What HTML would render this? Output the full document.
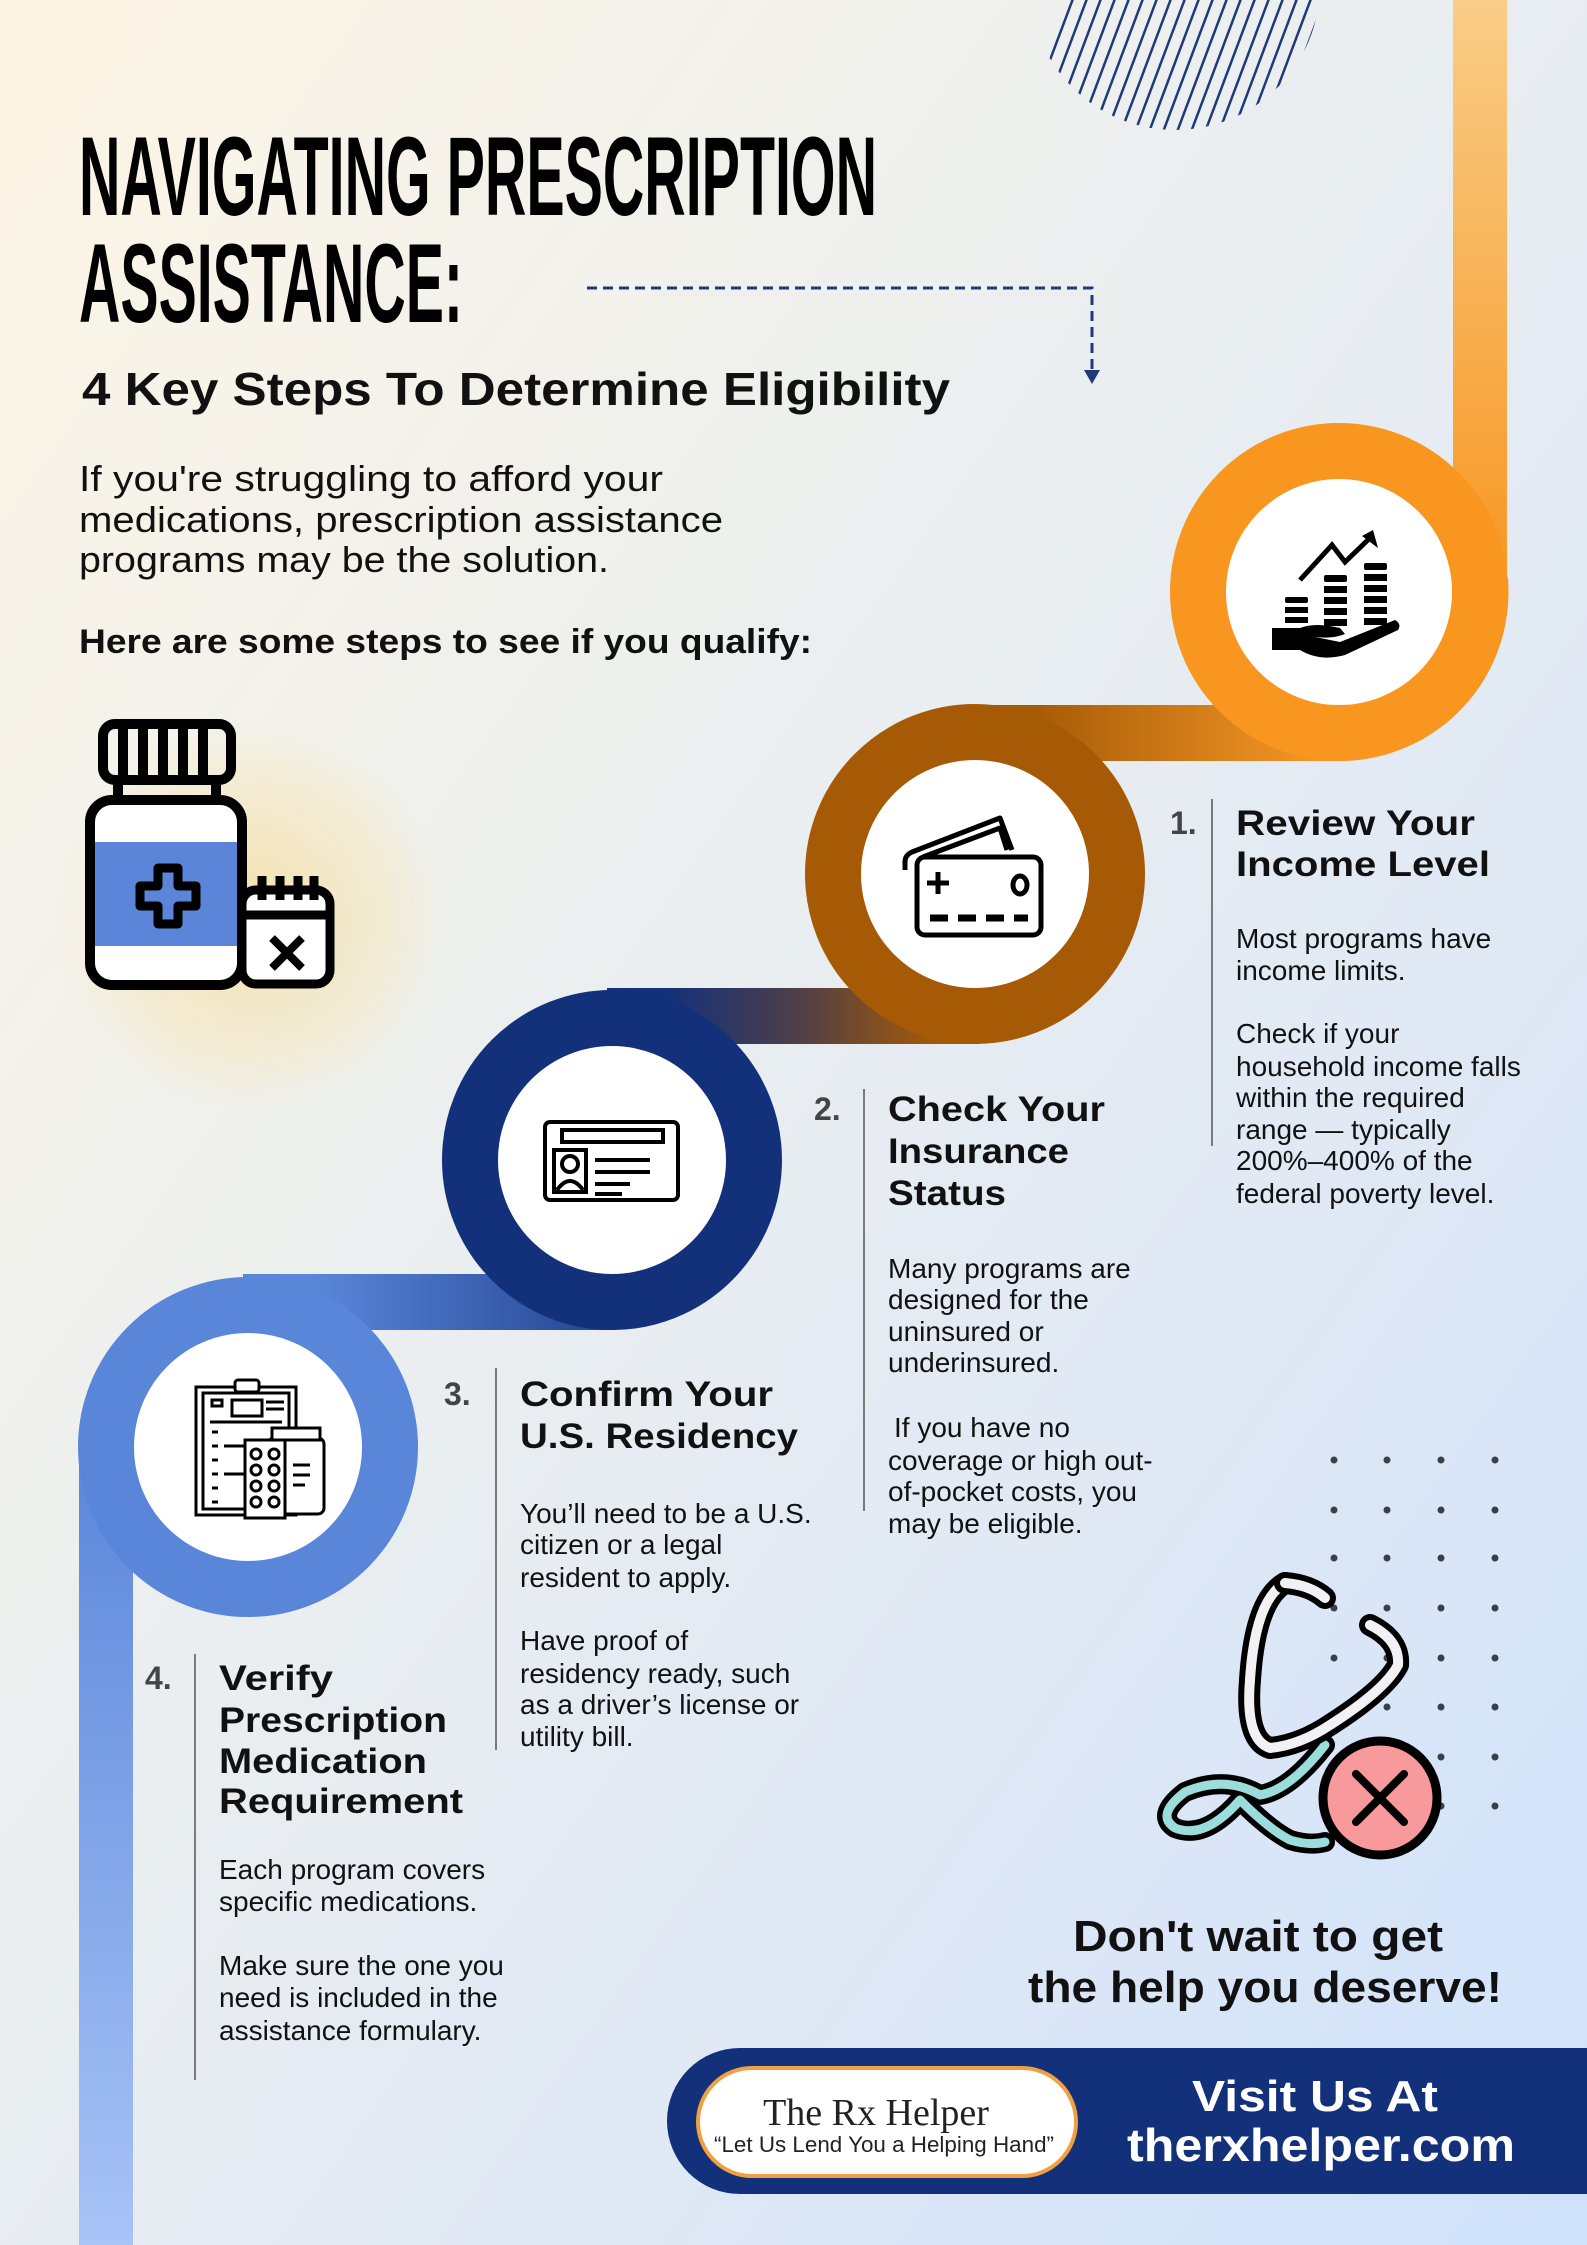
<!DOCTYPE html>
<html><head><meta charset="utf-8"><style>
html,body{margin:0;padding:0;}
body{width:1587px;height:2245px;overflow:hidden;}
svg{display:block;}
</style></head><body>
<svg width="1587" height="2245" viewBox="0 0 1587 2245" xmlns="http://www.w3.org/2000/svg" font-family="'Liberation Sans', sans-serif">
<defs>
<linearGradient id="bg" x1="0" y1="0" x2="1" y2="1">
<stop offset="0" stop-color="#fdf5e4"/><stop offset="0.35" stop-color="#eef0ee"/><stop offset="0.7" stop-color="#dfe8f5"/><stop offset="1" stop-color="#cfe2fb"/>
</linearGradient>
<linearGradient id="g1" gradientUnits="userSpaceOnUse" x1="0" y1="0" x2="0" y2="600"><stop offset="0" stop-color="#f9cd88"/><stop offset="1" stop-color="#f7951f"/></linearGradient>
<linearGradient id="g2" gradientUnits="userSpaceOnUse" x1="1340" y1="0" x2="975" y2="0"><stop offset="0" stop-color="#fa9b29"/><stop offset="0.85" stop-color="#a65a06"/></linearGradient>
<linearGradient id="g3" gradientUnits="userSpaceOnUse" x1="975" y1="0" x2="612" y2="0"><stop offset="0.1" stop-color="#a65a06"/><stop offset="0.5" stop-color="#4d3e4a"/><stop offset="0.85" stop-color="#13317a"/></linearGradient>
<linearGradient id="g4" gradientUnits="userSpaceOnUse" x1="700" y1="0" x2="248" y2="0"><stop offset="0" stop-color="#13317a"/><stop offset="0.85" stop-color="#5a86da"/></linearGradient>
<linearGradient id="g5" gradientUnits="userSpaceOnUse" x1="0" y1="1447" x2="0" y2="2245"><stop offset="0" stop-color="#5a86da"/><stop offset="1" stop-color="#a8c4f7"/></linearGradient>
<radialGradient id="halo" cx="0.5" cy="0.5" r="0.5"><stop offset="0" stop-color="#f6dd9a" stop-opacity="0.8"/><stop offset="0.7" stop-color="#f6e3b0" stop-opacity="0.4"/><stop offset="1" stop-color="#f6e3b0" stop-opacity="0"/></radialGradient>
<clipPath id="hatch"><circle cx="1175" cy="-15" r="145"/></clipPath>
</defs>
<rect width="1587" height="2245" fill="url(#bg)"/>

<!-- hatch -->
<g clip-path="url(#hatch)" stroke="#1e3a7a" stroke-width="2.5">
<path d="M1020,140 L1080,-20 M1034,140 L1094,-20 M1048,140 L1108,-20 M1062,140 L1122,-20 M1076,140 L1136,-20 M1090,140 L1150,-20 M1104,140 L1164,-20 M1118,140 L1178,-20 M1132,140 L1192,-20 M1146,140 L1206,-20 M1160,140 L1220,-20 M1174,140 L1234,-20 M1188,140 L1248,-20 M1202,140 L1262,-20 M1216,140 L1276,-20 M1230,140 L1290,-20 M1244,140 L1304,-20 M1258,140 L1318,-20 M1272,140 L1332,-20 M1286,140 L1346,-20"/>
</g>

<!-- title -->
<text x="79" y="215" font-family="'Liberation Sans Narrow','Liberation Sans',sans-serif" font-weight="bold" font-size="112" textLength="798" lengthAdjust="spacingAndGlyphs" fill="#000">NAVIGATING PRESCRIPTION</text>
<text x="79" y="322" font-family="'Liberation Sans Narrow','Liberation Sans',sans-serif" font-weight="bold" font-size="112" textLength="384" lengthAdjust="spacingAndGlyphs" fill="#000">ASSISTANCE:</text>
<path d="M587,288 H1092 V372" fill="none" stroke="#1e3a7a" stroke-width="3" stroke-dasharray="10,6"/>
<path d="M1084,370 L1100,370 L1092,384 Z" fill="#1e3a7a"/>
<text x="82" y="405" font-weight="bold" font-size="46" textLength="868" lengthAdjust="spacingAndGlyphs" fill="#111">4 Key Steps To Determine Eligibility</text>
<g font-size="36" fill="#111">
<text x="79" y="491" textLength="584" lengthAdjust="spacingAndGlyphs">If you're struggling to afford your</text>
<text x="79" y="532" textLength="644" lengthAdjust="spacingAndGlyphs">medications, prescription assistance</text>
<text x="79" y="572" textLength="530" lengthAdjust="spacingAndGlyphs">programs may be the solution.</text>
</g>
<text x="79" y="653" font-weight="bold" font-size="34" textLength="733" lengthAdjust="spacingAndGlyphs" fill="#111">Here are some steps to see if you qualify:</text>

<!-- pill bottle -->
<circle cx="250" cy="917" r="195" fill="url(#halo)"/>
<g fill="none" stroke="#000" stroke-width="10" stroke-linejoin="round">
<rect x="103" y="724" width="128" height="56" rx="12"/>
<path d="M123,728 V776 M143,728 V776 M163,728 V776 M183,728 V776 M203,728 V776"/>
<path d="M118,780 V800 M216,780 V800"/>
<rect x="90" y="800" width="152" height="185" rx="22" fill="#fff"/>
</g>
<rect x="95" y="842" width="142" height="104" fill="#5b85d9"/>
<path d="M158,868 h20 v18 h18 v20 h-18 v18 h-20 v-18 h-18 v-20 h18 z" fill="none" stroke="#000" stroke-width="9" stroke-linejoin="round"/>
<g fill="none" stroke="#000" stroke-width="9" stroke-linejoin="round">
<rect x="242" y="890" width="88" height="94" rx="14" fill="#fff"/>
<path d="M244,915 H328 M262,876 V900 M280,876 V900 M298,876 V900 M314,876 V900"/>
<path d="M272,938 L302,968 M302,938 L272,968" stroke-width="8"/>
</g>

<!-- path bands -->
<path d="M1480,0 V592" stroke="url(#g1)" stroke-width="54" fill="none"/>
<path d="M1480,580 A141 141 0 0 1 1339,733" stroke="#f7951f" stroke-width="56" fill="none"/>
<path d="M1345,733 H970" stroke="url(#g2)" stroke-width="56" fill="none"/>
<path d="M980,1016 H607" stroke="url(#g3)" stroke-width="56" fill="none"/>
<path d="M617,1302 H243" stroke="url(#g4)" stroke-width="56" fill="none"/>
<path d="M106,1447 V2245" stroke="url(#g5)" stroke-width="54" fill="none"/>

<!-- circles -->
<circle cx="1339" cy="592" r="141" fill="#fff" stroke="#f8961f" stroke-width="56"/>
<circle cx="975" cy="874" r="142" fill="#fff" stroke="#a65a06" stroke-width="56"/>
<circle cx="612" cy="1160" r="142" fill="#fff" stroke="#13317a" stroke-width="56"/>
<circle cx="248" cy="1447" r="142" fill="#fff" stroke="#5a86da" stroke-width="56"/>

<!-- icon 1 -->
<g fill="#000">
<rect x="1285" y="597" width="23" height="6" rx="2"/><rect x="1285" y="607" width="23" height="6"/><rect x="1285" y="617" width="23" height="6"/>
<rect x="1324" y="575" width="23" height="7" rx="2"/><rect x="1324" y="586" width="23" height="7"/><rect x="1324" y="597" width="23" height="7"/><rect x="1324" y="608" width="23" height="7"/><rect x="1324" y="619" width="23" height="7"/>
<rect x="1364" y="563" width="23" height="7" rx="2"/><rect x="1364" y="574" width="23" height="7"/><rect x="1364" y="585" width="23" height="7"/><rect x="1364" y="596" width="23" height="7"/><rect x="1364" y="607" width="23" height="7"/><rect x="1364" y="618" width="23" height="7"/>
<path d="M1272,628 H1300 Q1315,622 1340,628 L1345,634 Q1330,640 1310,636 L1340,642 L1395,620 Q1402,624 1398,630 L1345,655 Q1320,662 1300,650 H1272 Z"/>
<path d="M1373,530 L1378,548 L1362,536 Z"/>
</g>
<path d="M1300,580 L1332,545 L1345,562 L1372,536" fill="none" stroke="#000" stroke-width="5"/>

<!-- icon 2 card -->
<g fill="none" stroke="#000" stroke-width="5" stroke-linejoin="round">
<path d="M905,870 V862 Q905,855 912,852 L1000,818 L1012,850"/>
<path d="M923,857 L1000,828 L1007,850"/>
<rect x="917" y="857" width="124" height="78" rx="8" fill="#fff"/>
<path d="M938,872 V894 M927,883 H949" stroke-width="5"/>
<ellipse cx="1020" cy="885" rx="7" ry="9"/>
<path d="M930,918 h18 M958,918 h18 M986,918 h18 M1014,918 h14" stroke-width="7"/>
</g>

<!-- icon 3 ID -->
<g fill="none" stroke="#000" stroke-width="4">
<rect x="545" y="1122" width="133" height="78" rx="5"/>
<rect x="562" y="1130" width="101" height="12"/>
<rect x="554" y="1150" width="32" height="42"/>
<circle cx="570" cy="1164" r="8"/>
<path d="M557,1190 Q570,1172 583,1190"/>
<path d="M595,1160 H650 M595,1172 H650 M595,1184 H630 M595,1194 H622"/>
</g>

<!-- icon 4 clipboard -->
<g fill="none" stroke="#000" stroke-width="3">
<rect x="196" y="1387" width="100" height="128" fill="#fff"/>
<rect x="203" y="1393" width="86" height="116"/>
<rect x="235" y="1380" width="24" height="12" rx="3" fill="#fff"/>
<rect x="232" y="1400" width="30" height="16"/>
<path d="M212,1400 h10 v6 h-10z M266,1402 H284 M266,1409 H284"/>
<path d="M210,1422 H282 M212,1432 l6,0 M212,1446 h6 M212,1460 h6 M212,1474 h6 M212,1488 h6 M212,1502 h6 M224,1446 H248 M224,1474 H248"/>
<rect x="268" y="1438" width="56" height="76" rx="6" fill="#fff"/>
<rect x="272" y="1428" width="48" height="12" fill="#fff"/>
<rect x="245" y="1440" width="40" height="78" fill="#fff"/>
<circle cx="256" cy="1454" r="5"/><circle cx="274" cy="1454" r="5"/><circle cx="256" cy="1470" r="5"/><circle cx="274" cy="1470" r="5"/><circle cx="256" cy="1486" r="5"/><circle cx="274" cy="1486" r="5"/><circle cx="256" cy="1502" r="5"/><circle cx="274" cy="1502" r="5"/>
<path d="M293,1465 H310 M293,1475 H310 M293,1485 H305"/>
</g>

<!-- step texts -->
<g fill="#111">
<text x="1170" y="834" font-weight="bold" font-size="32" fill="#444">1.</text>
<path d="M1212,799 V1146" stroke="#555" stroke-width="1.5"/>
<text x="1236" y="835" font-weight="bold" font-size="35" textLength="239" lengthAdjust="spacingAndGlyphs">Review Your</text>
<text x="1236" y="876" font-weight="bold" font-size="35" textLength="254" lengthAdjust="spacingAndGlyphs">Income Level</text>
<g font-size="28">
<text x="1236" y="948">Most programs have</text>
<text x="1236" y="980">income limits.</text>
<text x="1236" y="1043">Check if your</text>
<text x="1236" y="1076">household income falls</text>
<text x="1236" y="1107">within the required</text>
<text x="1236" y="1139">range — typically</text>
<text x="1236" y="1170">200%–400% of the</text>
<text x="1236" y="1203">federal poverty level.</text>
</g>

<text x="814" y="1120" font-weight="bold" font-size="32" fill="#444">2.</text>
<path d="M864,1089 V1511" stroke="#555" stroke-width="1.5"/>
<text x="888" y="1121" font-weight="bold" font-size="35" textLength="217" lengthAdjust="spacingAndGlyphs">Check Your</text>
<text x="888" y="1163" font-weight="bold" font-size="35" textLength="181" lengthAdjust="spacingAndGlyphs">Insurance</text>
<text x="888" y="1205" font-weight="bold" font-size="35" textLength="118" lengthAdjust="spacingAndGlyphs">Status</text>
<g font-size="28">
<text x="888" y="1278">Many programs are</text>
<text x="888" y="1309">designed for the</text>
<text x="888" y="1341">uninsured or</text>
<text x="888" y="1372">underinsured.</text>
<text x="894" y="1437">If you have no</text>
<text x="888" y="1470">coverage or high out-</text>
<text x="888" y="1501">of-pocket costs, you</text>
<text x="888" y="1533">may be eligible.</text>
</g>

<text x="444" y="1405" font-weight="bold" font-size="32" fill="#444">3.</text>
<path d="M496,1368 V1750" stroke="#555" stroke-width="1.5"/>
<text x="520" y="1406" font-weight="bold" font-size="35" textLength="253" lengthAdjust="spacingAndGlyphs">Confirm Your</text>
<text x="520" y="1448" font-weight="bold" font-size="35" textLength="278" lengthAdjust="spacingAndGlyphs">U.S. Residency</text>
<g font-size="28">
<text x="520" y="1523">You’ll need to be a U.S.</text>
<text x="520" y="1554">citizen or a legal</text>
<text x="520" y="1587">resident to apply.</text>
<text x="520" y="1650">Have proof of</text>
<text x="520" y="1683">residency ready, such</text>
<text x="520" y="1714">as a driver’s license or</text>
<text x="520" y="1746">utility bill.</text>
</g>

<text x="145" y="1689" font-weight="bold" font-size="32" fill="#444">4.</text>
<path d="M195,1654 V2080" stroke="#555" stroke-width="1.5"/>
<text x="219" y="1690" font-weight="bold" font-size="35" textLength="114" lengthAdjust="spacingAndGlyphs">Verify</text>
<text x="219" y="1732" font-weight="bold" font-size="35" textLength="228" lengthAdjust="spacingAndGlyphs">Prescription</text>
<text x="219" y="1773" font-weight="bold" font-size="35" textLength="208" lengthAdjust="spacingAndGlyphs">Medication</text>
<text x="219" y="1813" font-weight="bold" font-size="35" textLength="244" lengthAdjust="spacingAndGlyphs">Requirement</text>
<g font-size="28">
<text x="219" y="1879">Each program covers</text>
<text x="219" y="1911">specific medications.</text>
<text x="219" y="1975">Make sure the one you</text>
<text x="219" y="2007">need is included in the</text>
<text x="219" y="2040">assistance formulary.</text>
</g>
</g>

<!-- dots -->
<g fill="#3a4048">
<circle cx="1334" cy="1460" r="3.5"/><circle cx="1387" cy="1460" r="3.5"/><circle cx="1441" cy="1460" r="3.5"/><circle cx="1495" cy="1460" r="3.5"/>
<circle cx="1334" cy="1510" r="3.5"/><circle cx="1387" cy="1510" r="3.5"/><circle cx="1441" cy="1510" r="3.5"/><circle cx="1495" cy="1510" r="3.5"/>
<circle cx="1334" cy="1558" r="3.5"/><circle cx="1387" cy="1558" r="3.5"/><circle cx="1441" cy="1558" r="3.5"/><circle cx="1495" cy="1558" r="3.5"/>
<circle cx="1334" cy="1608" r="3.5"/><circle cx="1387" cy="1608" r="3.5"/><circle cx="1441" cy="1608" r="3.5"/><circle cx="1495" cy="1608" r="3.5"/>
<circle cx="1334" cy="1658" r="3.5"/><circle cx="1387" cy="1658" r="3.5"/><circle cx="1441" cy="1658" r="3.5"/><circle cx="1495" cy="1658" r="3.5"/>
<circle cx="1387" cy="1707" r="3.5"/><circle cx="1441" cy="1707" r="3.5"/><circle cx="1495" cy="1707" r="3.5"/>
<circle cx="1441" cy="1757" r="3.5"/><circle cx="1495" cy="1757" r="3.5"/>
<circle cx="1441" cy="1806" r="3.5"/><circle cx="1495" cy="1806" r="3.5"/>
</g>

<!-- stethoscope -->
<g fill="none" stroke-linecap="round" stroke-linejoin="round">
<path d="M1325,1745 Q1290,1790 1260,1795 Q1225,1775 1185,1792 Q1155,1815 1175,1828 Q1205,1840 1240,1800 Q1270,1830 1290,1840 Q1310,1846 1325,1842" stroke="#000" stroke-width="20"/>
<path d="M1325,1745 Q1290,1790 1260,1795 Q1225,1775 1185,1792 Q1155,1815 1175,1828 Q1205,1840 1240,1800 Q1270,1830 1290,1840 Q1310,1846 1325,1842" stroke="#9bdcdc" stroke-width="9"/>
<path d="M1285,1583 Q1255,1600 1250,1680 Q1245,1740 1270,1748 Q1300,1745 1330,1725 Q1385,1690 1398,1665 Q1400,1640 1370,1625" stroke="#000" stroke-width="22"/>
<path d="M1285,1583 Q1255,1600 1250,1680 Q1245,1740 1270,1748 Q1300,1745 1330,1725 Q1385,1690 1398,1665 Q1400,1640 1370,1625" stroke="#f2f2f4" stroke-width="10"/>
<path d="M1285,1583 Q1310,1585 1325,1598" stroke="#000" stroke-width="22"/>
<path d="M1285,1583 Q1310,1585 1325,1598" stroke="#f2f2f4" stroke-width="10"/>
</g>
<circle cx="1380" cy="1798" r="57" fill="#f8999c" stroke="#000" stroke-width="9"/>
<path d="M1356,1774 L1404,1822 M1404,1774 L1356,1822" stroke="#000" stroke-width="8" stroke-linecap="round"/>

<!-- CTA -->
<text x="1258" y="1951" text-anchor="middle" font-weight="bold" font-size="44" textLength="370" lengthAdjust="spacingAndGlyphs" fill="#111">Don't wait to get</text>
<text x="1265" y="2002" text-anchor="middle" font-weight="bold" font-size="44" textLength="474" lengthAdjust="spacingAndGlyphs" fill="#111">the help you deserve!</text>

<!-- banner -->
<path d="M740,2048 H1587 V2194 H740 A73 73 0 0 1 740,2048 Z" fill="#13317a"/>
<rect x="698" y="2068" width="378" height="108" rx="54" fill="#fff" stroke="#f0a040" stroke-width="4"/>
<text x="876" y="2125" text-anchor="middle" font-family="'Liberation Serif',serif" font-size="38" fill="#222">The Rx Helper</text>
<text x="884" y="2152" text-anchor="middle" font-family="'Liberation Sans Narrow','Liberation Sans',sans-serif" font-size="22" textLength="340" lengthAdjust="spacingAndGlyphs" fill="#222">“Let Us Lend You a Helping Hand”</text>
<text x="1315" y="2111" text-anchor="middle" font-weight="bold" font-size="44" textLength="246" lengthAdjust="spacingAndGlyphs" fill="#fff">Visit Us At</text>
<text x="1321" y="2161" text-anchor="middle" font-weight="bold" font-size="46" textLength="388" lengthAdjust="spacingAndGlyphs" fill="#fff">therxhelper.com</text>
</svg>
</body></html>
